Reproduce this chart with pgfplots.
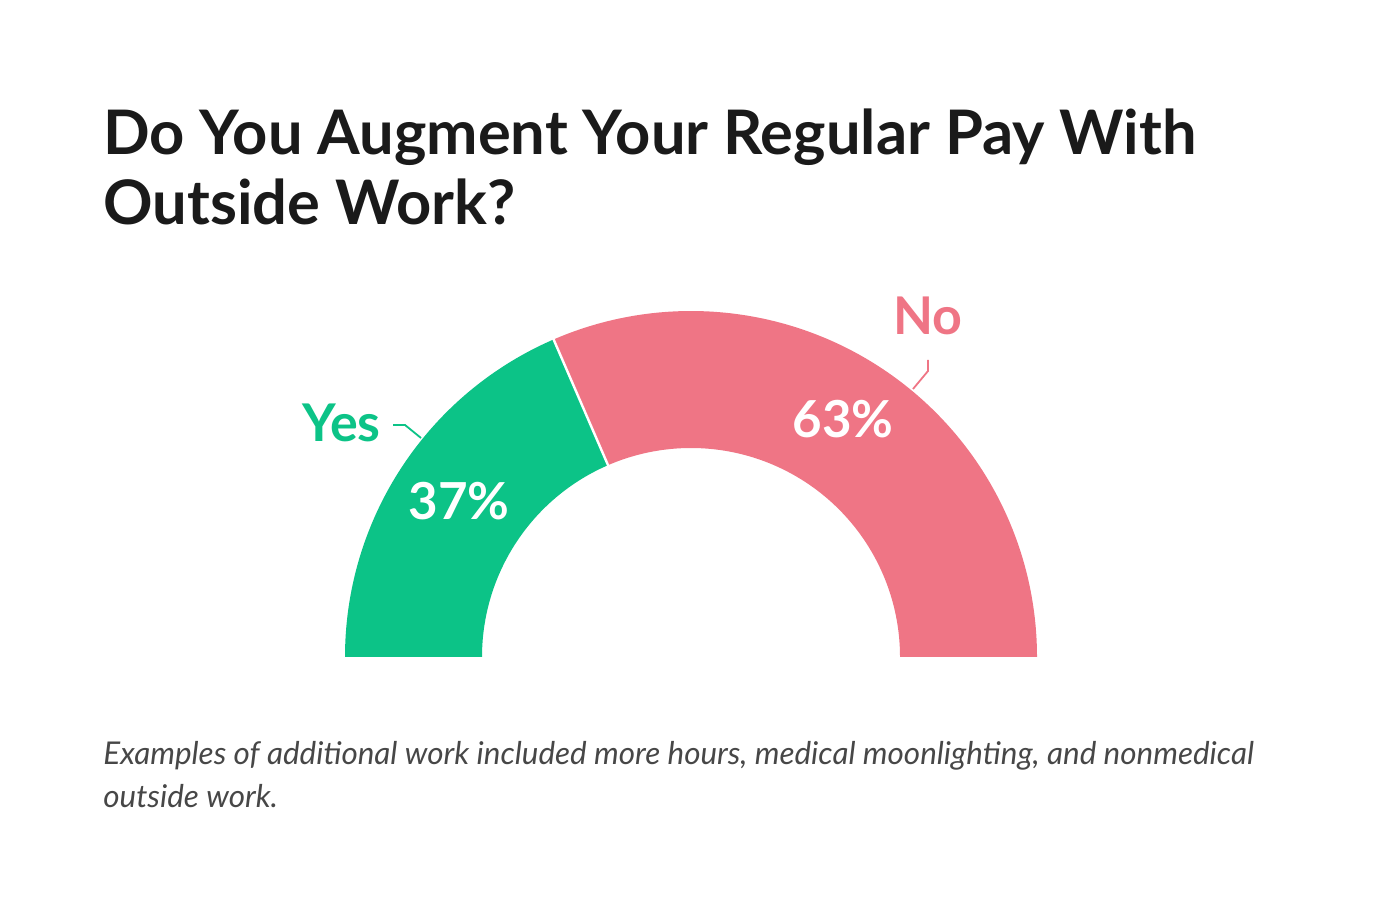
\documentclass[border=0pt]{standalone}
\usepackage{pgfplots}
\pgfplotsset{compat=1.18}
\usepackage{pgfplotstable}
\usepackage{fontspec}
\setmainfont{Lato}
\definecolor{yesgreen}{HTML}{0CC387}
\definecolor{nopink}{HTML}{EF7585}
\definecolor{titleblack}{HTML}{1A1A1A}
\definecolor{notegray}{HTML}{474747}

\pgfplotstableread{
label value
Yes 37
No 63
}\answers

\begin{document}
\begin{tikzpicture}
\path[use as bounding box] (0,0) rectangle (690pt,452pt);
\pgfplotstablegetelem{0}{value}\of\answers \let\yesval\pgfplotsretval
\pgfplotstablegetelem{1}{value}\of\answers \let\noval\pgfplotsretval
\pgfmathsetmacro{\splitang}{180 - 180*\yesval/(\yesval+\noval)}
\begin{axis}[
  at={(0,0)}, anchor=south west,
  scale only axis, width=690pt, height=452pt,
  xmin=0, xmax=1380, ymin=0, ymax=904,
  hide axis, clip=false]
% donut slices (center 691,247 in px units; 0.5pt per unit)
\fill[yesgreen] (axis cs:345,247)
   arc[start angle=180, end angle=\splitang, radius=173pt]
   -- ([shift={(\splitang:104.5pt)}]axis cs:691,247)
   arc[start angle=\splitang, end angle=180, radius=104.5pt] -- cycle;
\fill[nopink] ([shift={(\splitang:173pt)}]axis cs:691,247)
   arc[start angle=\splitang, end angle=0, radius=173pt]
   -- (axis cs:900,247)
   arc[start angle=0, end angle=\splitang, radius=104.5pt] -- cycle;
\draw[white, line width=1.2pt] ([shift={(\splitang:103pt)}]axis cs:691,247) -- ([shift={(\splitang:174pt)}]axis cs:691,247);
% percentages
\node[anchor=base, text=white, font=\bfseries\fontsize{25.5}{30}\selectfont] at (axis cs:459,384) {\yesval\%};
\node[anchor=base, text=white, font=\bfseries\fontsize{25.5}{30}\selectfont] at (axis cs:843,466) {\noval\%};
% category labels
\node[anchor=base east, text=yesgreen, font=\bfseries\fontsize{26}{28}\selectfont, inner sep=0pt] at (axis cs:381,462) {Yes};
\node[anchor=base, text=nopink, font=\bfseries\fontsize{26}{28}\selectfont, inner sep=0pt] at (axis cs:928,569) {No};
\draw[yesgreen, line width=0.9pt] (axis cs:393,479) -- (axis cs:405,479) -- (axis cs:421,466);
\draw[nopink, line width=0.9pt] (axis cs:928,544) -- (axis cs:928,533) -- (axis cs:913,515);
% title
\node[anchor=base west, inner sep=0pt, text=titleblack, font=\bfseries\fontsize{30.7}{34}\selectfont] at (axis cs:103,749) {Do You Augment Your Regular Pay With};
\node[anchor=base west, inner sep=0pt, text=titleblack, font=\bfseries\fontsize{30.7}{34}\selectfont] at (axis cs:103,679) {Outside Work?};
% note
\node[anchor=base west, inner sep=0pt, text=notegray, font=\itshape\fontsize{15.7}{16}\selectfont] at (axis cs:103,139) {Examples of additional work included more hours, medical moonlighting, and nonmedical};
\node[anchor=base west, inner sep=0pt, text=notegray, font=\itshape\fontsize{15.7}{16}\selectfont] at (axis cs:103,96) {outside work.};
\end{axis}
\end{tikzpicture}
\end{document}
